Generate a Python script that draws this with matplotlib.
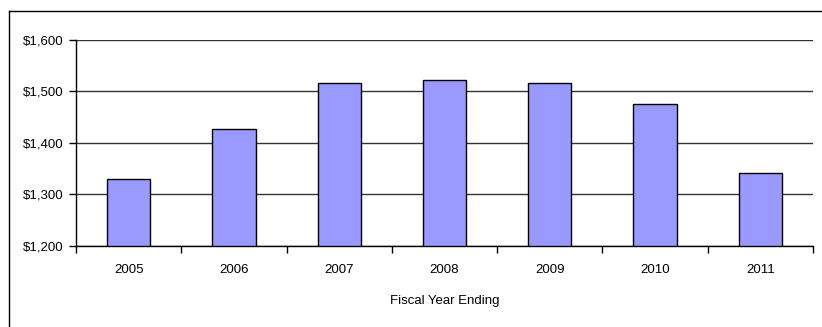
import matplotlib.pyplot as plt
from matplotlib.lines import Line2D
from matplotlib.ticker import FuncFormatter, FixedLocator, NullFormatter

years = ["2005", "2006", "2007", "2008", "2009", "2010", "2011"]
values = [1329, 1427, 1515, 1521, 1515, 1475, 1341]

plt.rcParams['font.family'] = ['Liberation Sans', 'DejaVu Sans']

fig = plt.figure(figsize=(8.22, 3.27), dpi=100)
ax = fig.add_axes([76 / 822, 1 - 245.7 / 327, (813 - 76) / 822, (245.7 - 39.7) / 327])

x = list(range(len(years)))
ax.bar(x, [v - 1200 for v in values], bottom=1200, width=0.41,
       color='#9999FF', edgecolor='black', linewidth=1, zorder=3)

ax.set_xlim(-0.5, len(years) - 0.5)
ax.set_ylim(1200, 1600)
ax.set_yticks([1200, 1300, 1400, 1500, 1600])
ax.yaxis.set_major_formatter(FuncFormatter(lambda v, p: "${:,.0f}".format(v)))
ax.grid(axis='y', color='#333333', linewidth=1, zorder=0)

# category labels centred, tick marks between categories
ax.set_xticks(x)
ax.set_xticklabels(years)
ax.tick_params(axis='x', which='major', length=0, pad=13, labelsize=9.5)
ax.xaxis.set_minor_locator(FixedLocator([i - 0.5 for i in range(len(years) + 1)]))
ax.xaxis.set_minor_formatter(NullFormatter())
ax.tick_params(axis='x', which='minor', length=5, width=1, direction='out', color='black')
ax.tick_params(axis='y', length=5, width=1, direction='out', pad=4, labelsize=9.5, color='black')

for s in ['top', 'right']:
    ax.spines[s].set_visible(False)
for s in ['left', 'bottom']:
    ax.spines[s].set_color('black')
    ax.spines[s].set_linewidth(1)

ax.set_xlabel("Fiscal Year Ending", fontsize=9.5, labelpad=14)

# outer chart border
fig.add_artist(Line2D([8.5 / 822, 8.5 / 822], [0, 1 - 10.5 / 327], color='black', lw=1,
                      transform=fig.transFigure))
fig.add_artist(Line2D([8.5 / 822, 1], [1 - 10.5 / 327, 1 - 10.5 / 327], color='black', lw=1,
                      transform=fig.transFigure))

fig.savefig("out.png", dpi=100)
